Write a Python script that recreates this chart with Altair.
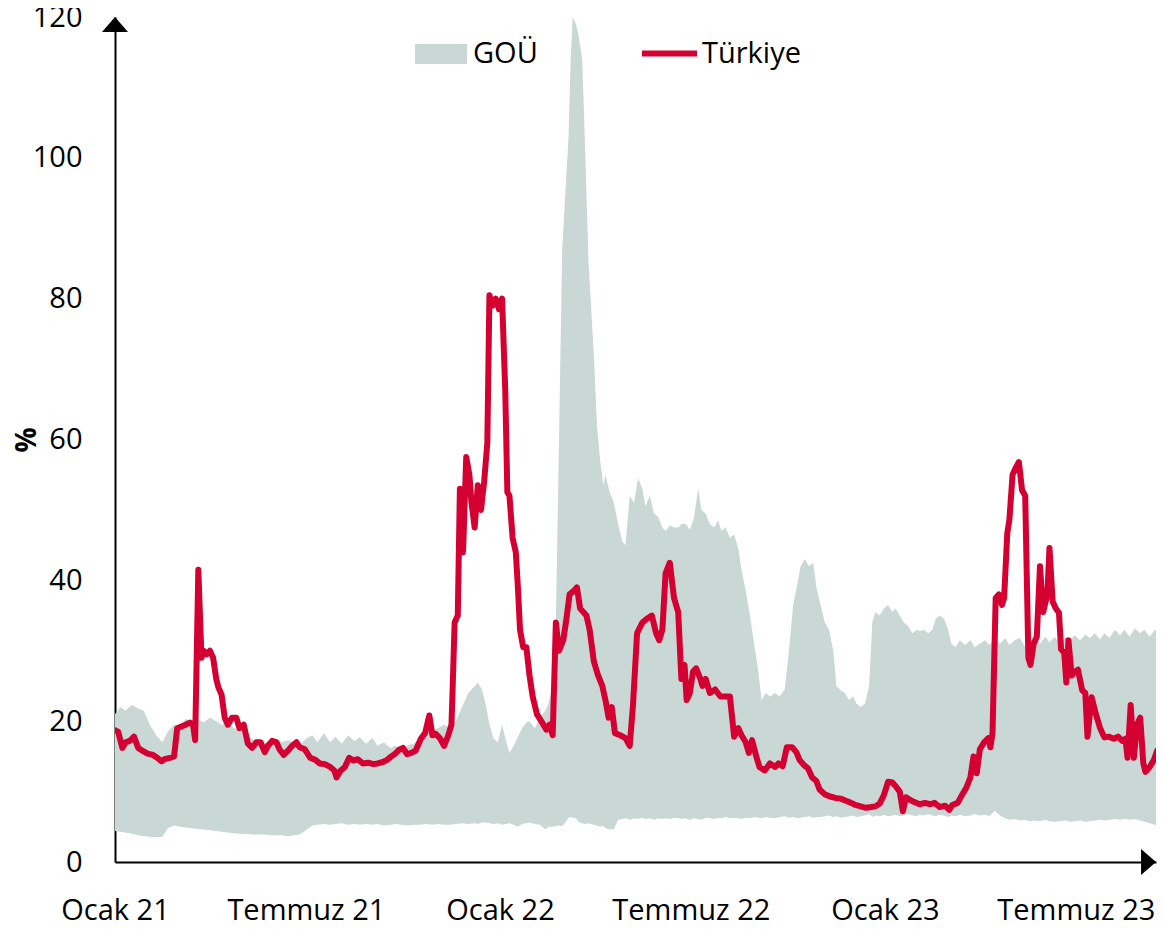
import altair as alt
import pandas as pd

# ---------------- data ----------------
# day offsets from 2021-01-01
tr_days = [0, 3, 7, 10, 14, 18, 22, 26, 31, 36,
           40, 44, 47, 52, 56, 59, 64, 67, 71, 74,
           76, 79, 82, 84, 87, 90, 93, 96, 98, 101,
           104, 107, 111, 115, 118, 122, 126, 130, 134, 138,
           142, 145, 149, 153, 156, 160, 164, 168, 172, 175,
           180, 185, 190, 194, 199, 204, 208, 210, 214, 218,
           222, 226, 230, 235, 240, 245, 249, 254, 258, 262,
           265, 269, 273, 277, 281, 285, 290, 294, 298, 301,
           304, 308, 312, 316, 319, 320, 322, 325, 327, 330,
           333, 336, 338, 341, 344, 347, 350, 353, 355, 358,
           361, 364, 367, 370, 372, 374, 377, 380, 382, 384,
           387, 390, 393, 396, 400, 405, 409, 412, 415, 418,
           421, 425, 428, 431, 435, 438, 441, 444, 447, 450,
           454, 458, 462, 465, 468, 471, 474, 479, 484, 488,
           491, 495, 500, 504, 509, 513, 516, 519, 522, 526,
           530, 534, 537, 540, 542, 545, 548, 551, 555, 557,
           560, 564, 569, 574, 578, 583, 587, 591, 594, 598,
           601, 604, 608, 611, 616, 621, 626, 629, 633, 637,
           642, 646, 649, 653, 657, 661, 665, 668, 673, 678,
           683, 688, 693, 698, 702, 707, 712, 717, 721, 725,
           729, 733, 737, 740, 744, 747, 750, 754, 758, 763,
           768, 773, 777, 782, 787, 791, 794, 799, 803, 807,
           811, 814, 817, 820, 824, 828, 830, 832, 835, 838,
           841, 843, 846, 848, 851, 854, 857, 860, 863, 866,
           868, 871, 874, 877, 880, 884, 886, 889, 892, 895,
           897, 900, 902, 904, 907, 910, 913, 917, 920, 922,
           926, 930, 934, 938, 942, 947, 951, 955, 958, 960,
           963, 966, 969, 972, 975, 977, 981, 985, 988, 991, 994]
tr_values = [18.7, 18.5, 16.2, 17.0, 17.2, 17.8, 16.2, 15.8, 15.4, 15.2,
             14.8, 14.3, 14.6, 14.8, 15.0, 19.0, 19.3, 19.5, 19.8, 19.5,
             17.3, 41.5, 29.0, 30.0, 29.5, 30.0, 29.0, 26.0, 24.8, 23.8,
             20.5, 19.5, 20.5, 20.5, 19.0, 19.5, 16.8, 16.2, 17.0, 17.0,
             15.6, 16.5, 17.2, 17.0, 16.0, 15.2, 15.8, 16.5, 17.0, 16.3,
             16.0, 14.8, 14.5, 14.0, 13.9, 13.5, 13.0, 12.0, 13.0, 13.5,
             14.8, 14.4, 14.6, 14.0, 14.1, 13.9, 14.0, 14.2, 14.5, 15.0,
             15.3, 15.9, 16.2, 15.3, 15.5, 15.8, 17.5, 18.3, 20.8, 18.0,
             18.2, 17.6, 16.5, 18.0, 19.5, 24.0, 34.0, 35.0, 53.0, 44.0,
             57.5, 55.0, 51.0, 47.5, 53.5, 50.0, 54.0, 59.5, 80.5, 79.0,
             80.0, 78.5, 80.0, 67.0, 52.5, 52.0, 46.0, 44.0, 39.0, 33.0,
             30.5, 30.5, 26.5, 23.5, 21.0, 19.8, 18.8, 19.5, 18.0, 34.0,
             30.0, 31.5, 34.5, 38.0, 38.5, 39.0, 36.0, 35.5, 35.0, 33.0,
             28.5, 26.5, 25.0, 23.0, 20.5, 22.0, 18.3, 18.0, 17.6, 16.5,
             22.0, 32.5, 34.0, 34.5, 35.0, 32.5, 31.5, 33.0, 41.0, 42.5,
             37.5, 35.5, 26.0, 28.0, 23.0, 24.0, 27.0, 27.5, 26.0, 25.0,
             26.0, 24.0, 24.5, 23.5, 23.5, 23.5, 17.8, 19.0, 18.0, 17.0,
             15.5, 17.3, 15.0, 13.5, 13.0, 14.0, 13.5, 14.0, 13.6, 16.3,
             16.3, 15.6, 14.5, 13.8, 13.3, 12.0, 11.5, 10.3, 9.6, 9.3,
             9.1, 9.0, 8.7, 8.4, 8.1, 7.9, 7.7, 7.8, 7.9, 8.3,
             9.5, 11.4, 11.3, 10.8, 10.0, 7.2, 9.2, 8.8, 8.5, 8.2,
             8.4, 8.2, 8.4, 7.8, 8.0, 7.4, 8.1, 8.4, 9.5, 10.5,
             12.0, 15.0, 12.6, 16.0, 17.0, 17.6, 16.3, 18.3, 37.5, 38.0,
             36.5, 37.5, 46.7, 48.6, 55.0, 56.0, 56.8, 52.8, 52.0, 29.0,
             28.0, 31.0, 32.0, 42.0, 35.5, 38.0, 44.6, 37.0, 36.0, 35.4,
             30.2, 29.7, 25.5, 31.5, 26.5, 27.0, 27.3, 24.4, 24.0, 17.8,
             23.4, 21.0, 19.0, 17.7, 17.8, 17.5, 17.8, 17.2, 17.5, 14.8,
             22.3, 14.8, 19.5, 20.5, 14.0, 12.8, 13.5, 14.5, 15.8, 15.5, 13.8]

band_days = [0, 5, 10, 16, 22, 27, 33, 39, 45, 50,
             56, 62, 67, 73, 79, 84, 90, 96, 101, 107,
             113, 118, 124, 130, 136, 141, 147, 153, 158, 164,
             170, 175, 181, 187, 192, 198, 204, 209, 215, 221,
             227, 232, 238, 244, 249, 255, 261, 266, 272, 278,
             283, 289, 295, 301, 306, 312, 318, 323, 329, 335,
             341, 344, 348, 352, 355, 359, 363, 367, 371, 374,
             378, 382, 386, 390, 393, 398, 403, 408, 411, 415,
             418, 421, 424, 427, 430, 432, 434, 437, 440, 443,
             446, 449, 451, 454, 457, 460, 463, 465, 469, 473,
             477, 481, 484, 488, 492, 496, 500, 503, 507, 511,
             515, 519, 522, 526, 530, 534, 537, 541, 545, 549,
             553, 556, 560, 564, 568, 572, 575, 579, 583, 587,
             591, 594, 598, 602, 606, 610, 613, 617, 621, 626,
             630, 635, 639, 643, 647, 650, 654, 658, 662, 665,
             669, 673, 677, 681, 684, 688, 692, 696, 700, 703,
             707, 711, 715, 718, 721, 725, 729, 733, 737, 740,
             744, 748, 752, 756, 760, 763, 767, 771, 775, 778,
             782, 786, 790, 793, 797, 801, 806, 811, 815, 820,
             825, 829, 834, 839, 844, 848, 853, 858, 863, 867,
             872, 877, 882, 886, 891, 896, 901, 905, 910, 915,
             920, 924, 929, 934, 938, 943, 948, 953, 957, 962,
             967, 972, 976, 981, 986, 991, 994]
band_high = [21.0, 22.0, 21.5, 22.3, 21.8, 21.5, 19.5, 18.0, 17.0, 18.5,
             19.5, 19.3, 20.3, 20.0, 20.2, 19.8, 20.5, 20.0, 19.5, 19.8,
             19.0, 18.8, 18.0, 17.5, 17.0, 16.8, 17.2, 17.5, 17.0, 17.3,
             17.0, 16.6, 17.5, 18.0, 17.0, 18.3, 17.0, 17.8, 16.8, 18.0,
             17.2, 17.7, 16.8, 17.6, 16.5, 17.0, 16.2, 16.5, 16.0, 16.6,
             16.8, 17.3, 18.3, 18.7, 19.0, 19.5, 19.0, 20.0, 22.0, 24.0,
             25.0, 25.5, 24.5, 22.0, 19.5, 17.5, 17.0, 19.5, 17.0, 15.5,
             16.5, 17.8, 19.0, 19.8, 20.0, 19.0, 20.5, 21.5, 22.5, 25.0,
             34.0, 60.0, 87.0, 95.0, 103.0, 114.0, 120.0, 119.0, 117.0, 114.0,
             100.0, 85.0, 80.0, 72.0, 62.0, 57.0, 53.5, 55.0, 52.5, 51.0,
             48.0, 45.5, 45.0, 52.0, 51.0, 54.5, 53.0, 50.5, 52.0, 49.5,
             49.0, 47.5, 47.0, 47.8, 47.5, 47.5, 48.0, 48.0, 47.2, 49.0,
             53.0, 50.0, 49.5, 48.0, 47.5, 48.5, 47.0, 47.5, 46.0, 46.5,
             44.5, 41.5, 38.5, 35.0, 31.0, 27.0, 23.0, 24.0, 23.5, 24.0,
             23.5, 24.5, 30.0, 36.5, 39.5, 42.0, 43.0, 42.0, 42.5, 39.0,
             36.5, 34.0, 33.0, 30.0, 25.0, 24.4, 24.0, 23.0, 23.5, 22.5,
             22.0, 22.5, 25.0, 34.0, 35.5, 35.0, 36.0, 36.5, 35.5, 36.0,
             35.0, 34.0, 33.5, 32.5, 33.0, 32.8, 33.0, 32.5, 33.0, 34.5,
             35.0, 34.5, 33.0, 31.0, 30.5, 31.5, 30.8, 31.5, 30.5, 31.0,
             31.5, 30.8, 31.8, 31.0, 31.8, 30.8, 31.5, 31.8, 30.5, 31.5,
             32.0, 31.0, 32.0, 31.2, 32.0, 31.0, 32.0, 31.5, 32.2, 31.5,
             32.3, 31.8, 32.5, 31.6, 32.5, 31.8, 33.0, 32.2, 33.0, 32.0,
             33.2, 32.5, 33.0, 32.0, 33.0, 32.5, 31.5]
band_low = [4.4, 4.3, 4.2, 4.0, 3.8, 3.7, 3.6, 3.5, 3.6, 4.8,
            5.2, 5.0, 4.9, 4.8, 4.7, 4.6, 4.5, 4.4, 4.3, 4.2,
            4.1, 4.0, 4.0, 3.9, 3.9, 3.9, 3.8, 3.8, 3.8, 3.7,
            3.8, 3.9, 4.5, 5.2, 5.3, 5.4, 5.3, 5.4, 5.5, 5.3,
            5.4, 5.3, 5.4, 5.3, 5.4, 5.2, 5.3, 5.4, 5.3, 5.2,
            5.3, 5.3, 5.4, 5.3, 5.4, 5.3, 5.3, 5.4, 5.5, 5.4,
            5.5, 5.4, 5.6, 5.6, 5.5, 5.4, 5.5, 5.3, 5.4, 5.5,
            5.3, 5.0, 5.4, 5.5, 5.6, 5.4, 5.3, 4.6, 5.0, 5.0,
            5.1, 5.2, 5.1, 5.6, 6.3, 6.4, 6.3, 6.2, 5.6, 5.5,
            5.4, 5.5, 5.4, 5.3, 5.2, 5.0, 5.1, 4.8, 4.6, 4.7,
            6.0, 6.1, 6.2, 6.0, 6.2, 6.1, 6.3, 6.1, 6.2, 6.0,
            6.2, 6.1, 6.2, 6.1, 6.3, 6.2, 6.1, 6.2, 6.0, 6.2,
            6.1, 6.0, 6.3, 6.2, 6.1, 6.3, 6.2, 6.4, 6.2, 6.3,
            6.2, 6.1, 6.3, 6.2, 6.4, 6.3, 6.2, 6.4, 6.3, 6.2,
            6.4, 6.5, 6.3, 6.4, 6.2, 6.3, 6.4, 6.5, 6.3, 6.4,
            6.4, 6.5, 6.6, 6.4, 6.5, 6.3, 6.4, 6.5, 6.6, 6.4,
            6.5, 6.6, 6.8, 6.4, 6.6, 6.5, 6.7, 6.5, 6.6, 6.7,
            6.5, 6.6, 6.8, 6.6, 6.5, 6.7, 6.6, 6.8, 6.6, 6.5,
            6.7, 6.6, 6.4, 6.6, 6.5, 6.7, 6.5, 6.6, 6.8, 6.6,
            6.7, 6.5, 7.3, 6.6, 6.2, 6.0, 6.1, 5.9, 6.0, 5.8,
            5.9, 5.8, 6.0, 5.8, 5.7, 5.8, 5.9, 5.7, 5.8, 5.9,
            5.7, 5.8, 5.9, 6.0, 5.9, 6.0, 6.1, 6.0, 6.1, 6.0,
            6.1, 5.9, 5.7, 5.5, 5.3, 5.1, 5.0]

series_names = ["GOÜ", "Türkiye"]
series_colors = ["#C9D8D5", "#D50032"]

x_tick_dates = ["2021-01-01", "2021-07-01", "2022-01-01",
                "2022-07-01", "2023-01-01", "2023-07-01"]
x_tick_labels = ["Ocak 21", "Temmuz 21", "Ocak 22",
                 "Temmuz 22", "Ocak 23", "Temmuz 23"]
y_ticks = [0, 20, 40, 60, 80, 100, 120]
x_domain = ["2021-01-01", "2023-09-15"]

# ---------------- build tables ----------------
start = pd.Timestamp("2021-01-01")


def to_dates(days):
    return [(start + pd.Timedelta(days=d)).strftime("%Y-%m-%d") for d in days]


def to_ms(s):
    return int(pd.Timestamp(s, tz="UTC").timestamp() * 1000)


band_df = pd.DataFrame({"tarih": to_dates(band_days), "alt": band_low,
                        "ust": band_high, "seri": series_names[0]})
tr_df = pd.DataFrame({"tarih": to_dates(tr_days), "deger": tr_values,
                      "seri": series_names[1]})

FONT = "Open Sans"
PLOT_W, PLOT_H = 1041, 845

label_expr = "''"
for d, lab in zip(x_tick_dates, x_tick_labels):
    label_expr = f"utcFormat(datum.value, '%Y-%m-%d') == '{d}' ? '{lab}' : ({label_expr})"

x_scale = alt.Scale(type="utc", domain=[to_ms(x_domain[0]), to_ms(x_domain[1])])
x_axis = alt.Axis(values=[to_ms(d) for d in x_tick_dates], labelExpr=label_expr,
                  ticks=False, grid=False, labelPadding=34, labelFontSize=29,
                  labelFont=FONT, labelColor="#000", domainColor="#000",
                  domainWidth=2, labelFlush=False, labelOverlap=False,
                  labelBound=False, title=None)
y_scale = alt.Scale(domain=[0, 120], nice=False, zero=True)
y_axis = alt.Axis(values=y_ticks, ticks=False, grid=False, labelPadding=33,
                  labelFontSize=29, labelFont=FONT, labelColor="#000",
                  domainColor="#000", domainWidth=2, title="%",
                  titleFont=FONT, titleFontSize=28, titleFontWeight="bold",
                  titleColor="#000", titleX=-88, titleY=PLOT_H / 2, titleAngle=270,
                  titleAlign="center", titleBaseline="middle")

X = alt.X("tarih:T", scale=x_scale, axis=x_axis)

area = alt.Chart(band_df).mark_area(opacity=1, interpolate="linear", clip=True).encode(
    x=X,
    y=alt.Y("ust:Q", scale=y_scale, axis=y_axis),
    y2="alt:Q",
    fill=alt.Fill("seri:N",
                  scale=alt.Scale(domain=[series_names[0]], range=[series_colors[0]]),
                  legend=alt.Legend(orient="none", legendX=300, legendY=11, title=None,
                                    symbolType="M-1,-0.385H1V0.385H-1Z",
                                    symbolSize=2704, symbolStrokeWidth=0,
                                    symbolOpacity=1,
                                    labelFont=FONT, labelFontSize=29,
                                    labelColor="#000", labelOffset=6, padding=0)),
)

line = alt.Chart(tr_df).mark_line(strokeWidth=6, strokeCap="round",
                                  strokeJoin="round", clip=True).encode(
    x=X,
    y=alt.Y("deger:Q", scale=y_scale, axis=y_axis),
    stroke=alt.Stroke("seri:N",
                      scale=alt.Scale(domain=[series_names[1]], range=[series_colors[1]]),
                      legend=alt.Legend(orient="none", legendX=524, legendY=6, title=None,
                                        symbolType="stroke", symbolSize=3025,
                                        symbolStrokeWidth=6,
                                        labelFont=FONT, labelFontSize=29,
                                        labelColor="#000", labelOffset=2, padding=0)),
)

one = pd.DataFrame({"k": [0]})
arrow_up = alt.Chart(one).mark_point(
    shape="M0,0L1,1.15L-1,1.15Z", size=676, filled=True, color="#000",
    opacity=1, strokeWidth=0).encode(x=alt.value(0), y=alt.value(0))
arrow_right = alt.Chart(one).mark_point(
    shape="M0,0L-1.15,-1L-1.15,1Z", size=676, filled=True, color="#000",
    opacity=1, strokeWidth=0).encode(x=alt.value(PLOT_W), y=alt.value(PLOT_H))

chart = alt.layer(area, line, arrow_up, arrow_right).properties(
    width=PLOT_W, height=PLOT_H,
    autosize=alt.AutoSizeParams(type="none"),
    padding={"left": 107, "top": 9, "right": 1, "bottom": 62},
).configure_view(stroke=None).resolve_legend(fill="independent", stroke="independent")

chart.save("out.html", embed_options={"renderer": "svg", "actions": False})
